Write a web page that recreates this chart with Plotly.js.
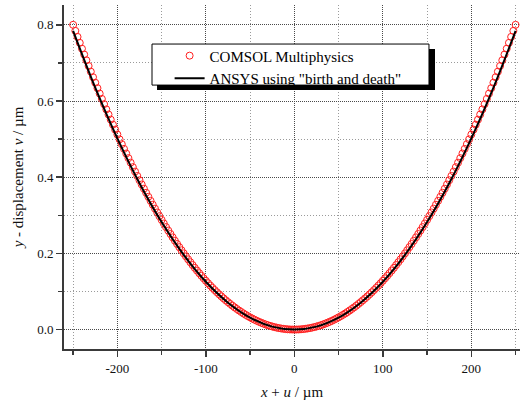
<!DOCTYPE html>
<html>
<head>
<meta charset="utf-8">
<script src="https://cdn.plot.ly/plotly-3.0.1.min.js"></script>
<style>html,body{margin:0;padding:0;background:#fff;}#chart{width:520px;height:400px;}</style>
</head>
<body>
<div id="chart"></div>
<script>
// COMSOL Multiphysics points (x + u in µm, y-displacement v in µm)
var comsolX = [-250,-247.5,-245,-242.5,-240,-237.5,-235,-232.5,-230,-227.5,-225,-222.5,-220,-217.5,-215,-212.5,-210,-207.5,-205,-202.5,
-200,-197.5,-195,-192.5,-190,-187.5,-185,-182.5,-180,-177.5,-175,-172.5,-170,-167.5,-165,-162.5,-160,-157.5,-155,-152.5,
-150,-147.5,-145,-142.5,-140,-137.5,-135,-132.5,-130,-127.5,-125,-122.5,-120,-117.5,-115,-112.5,-110,-107.5,-105,-102.5,
-100,-97.5,-95,-92.5,-90,-87.5,-85,-82.5,-80,-77.5,-75,-72.5,-70,-67.5,-65,-62.5,-60,-57.5,-55,-52.5,
-50,-47.5,-45,-42.5,-40,-37.5,-35,-32.5,-30,-27.5,-25,-22.5,-20,-17.5,-15,-12.5,-10,-7.5,-5,-2.5,
0,
2.5,5,7.5,10,12.5,15,17.5,20,22.5,25,27.5,30,32.5,35,37.5,40,42.5,45,47.5,50,
52.5,55,57.5,60,62.5,65,67.5,70,72.5,75,77.5,80,82.5,85,87.5,90,92.5,95,97.5,100,
102.5,105,107.5,110,112.5,115,117.5,120,122.5,125,127.5,130,132.5,135,137.5,140,142.5,145,147.5,150,
152.5,155,157.5,160,162.5,165,167.5,170,172.5,175,177.5,180,182.5,185,187.5,190,192.5,195,197.5,200,
202.5,205,207.5,210,212.5,215,217.5,220,222.5,225,227.5,230,232.5,235,237.5,240,242.5,245,247.5,250];
var comsolY = [0.8,0.7841,0.7683,0.7527,0.7373,0.722,0.7069,0.6919,0.6771,0.6625,
0.648,0.6337,0.6195,0.6055,0.5917,0.578,0.5645,0.5511,0.5379,0.5249,
0.512,0.4993,0.4867,0.4743,0.4621,0.45,0.4381,0.4263,0.4147,0.4033,
0.392,0.3809,0.3699,0.3591,0.3485,0.338,0.3277,0.3175,0.3075,0.2977,
0.288,0.2785,0.2691,0.2599,0.2509,0.242,0.2333,0.2247,0.2163,0.2081,
0.2,0.1921,0.1843,0.1767,0.1693,0.162,0.1549,0.1479,0.1411,0.1345,
0.128,0.1217,0.1155,0.1095,0.1037,0.098,0.0925,0.0871,0.0819,0.0769,
0.072,0.0673,0.0627,0.0583,0.0541,0.05,0.0461,0.0423,0.0387,0.0353,
0.032,0.0289,0.0259,0.0231,0.0205,0.018,0.0157,0.0135,0.0115,0.0097,
0.008,0.0065,0.0051,0.0039,0.0029,0.002,0.0013,0.0007,0.0003,0.0001,
0,
0.0001,0.0003,0.0007,0.0013,0.002,0.0029,0.0039,0.0051,0.0065,0.008,
0.0097,0.0115,0.0135,0.0157,0.018,0.0205,0.0231,0.0259,0.0289,0.032,
0.0353,0.0387,0.0423,0.0461,0.05,0.0541,0.0583,0.0627,0.0673,0.072,
0.0769,0.0819,0.0871,0.0925,0.098,0.1037,0.1095,0.1155,0.1217,0.128,
0.1345,0.1411,0.1479,0.1549,0.162,0.1693,0.1767,0.1843,0.1921,0.2,
0.2081,0.2163,0.2247,0.2333,0.242,0.2509,0.2599,0.2691,0.2785,0.288,
0.2977,0.3075,0.3175,0.3277,0.338,0.3485,0.3591,0.3699,0.3809,0.392,
0.4033,0.4147,0.4263,0.4381,0.45,0.4621,0.4743,0.4867,0.4993,0.512,
0.5249,0.5379,0.5511,0.5645,0.578,0.5917,0.6055,0.6195,0.6337,0.648,
0.6625,0.6771,0.6919,0.7069,0.722,0.7373,0.7527,0.7683,0.7841,0.8];

// ANSYS using "birth and death"
var ansysX = [-250,-225,-200,-175,-150,-125,-100,-75,-50,-25,0,25,50,75,100,125,150,175,200,225,250];
var ansysY = [0.784,0.635,0.5018,0.3842,0.2822,0.196,0.1254,0.0706,0.0314,0.0078,0,0.0078,0.0314,0.0706,0.1254,0.196,0.2822,0.3842,0.5018,0.635,0.784];

var seriesNames = ['COMSOL Multiphysics', 'ANSYS using "birth and death"'];

var xTickVals = [-200,-100,0,100,200];
var xTickText = ['-200','-100','0','100','200'];
var xMinorVals = [-250,-150,-50,50,150,250];
var yTickVals = [0,0.2,0.4,0.6,0.8];
var yTickText = ['0.0','0.2','0.4','0.6','0.8'];
var yMinorVals = [0.1,0.3,0.5,0.7];

var serif = '"Liberation Serif", "Times New Roman", serif';

var traces = [
  {x: comsolX, y: comsolY, name: seriesNames[0], type: 'scatter', mode: 'markers',
   marker: {symbol: 'circle-open', size: 7, color: '#ff2020', line: {width: 1, color: '#ff2020'}}},
  {x: ansysX, y: ansysY, name: seriesNames[1], type: 'scatter', mode: 'lines',
   line: {color: '#000', width: 2, shape: 'spline'}}
];

var axisCommon = {
  showline: true, linecolor: '#3a3a3a', linewidth: 2,
  ticks: 'outside', tickcolor: '#3a3a3a', tickwidth: 1.5, ticklen: 6,
  showgrid: true, gridcolor: '#4a4a4a', gridwidth: 1, griddash: '1px,1px',
  zeroline: false, mirror: false,
  tickfont: {family: serif, size: 13, color: '#111'}
};

var layout = {
  width: 520, height: 400,
  font: {family: serif, size: 13, color: '#111'},
  paper_bgcolor: '#fff', plot_bgcolor: '#fff',
  margin: {l: 64, r: 0, t: 5, b: 51, pad: 0},
  showlegend: true,
  legend: {x: 0.2316, y: 0.9, xanchor: 'left', yanchor: 'top',
           bgcolor: 'rgba(0,0,0,0)', borderwidth: 0,
           font: {family: serif, size: 15, color: '#000'}, tracegroupgap: 0},
  xaxis: Object.assign({}, axisCommon, {
    range: [-260.3, 255], tickmode: 'array', tickvals: xTickVals, ticktext: xTickText,
    minor: {tickmode: 'array', tickvals: xMinorVals, ticks: 'outside', ticklen: 4, tickcolor: '#3a3a3a',
            showgrid: true, gridcolor: '#9a9a9a', griddash: '1px,2px', gridwidth: 1},
    title: {text: '<i>x</i> + <i>u</i> / µm', font: {family: serif, size: 15, color: '#111'}, standoff: 12}
  }),
  yaxis: Object.assign({}, axisCommon, {
    range: [-0.051, 0.852], tickmode: 'array', tickvals: yTickVals, ticktext: yTickText,
    minor: {tickmode: 'array', tickvals: yMinorVals, ticks: 'outside', ticklen: 4, tickcolor: '#3a3a3a',
            showgrid: true, gridcolor: '#9a9a9a', griddash: '1px,2px', gridwidth: 1},
    title: {text: '<i>y</i> - displacement <i>v</i> / µm', font: {family: serif, size: 15, color: '#111'}, standoff: 10}
  }),
  shapes: [
    {type: 'rect', xref: 'paper', yref: 'paper', x0: 0.204, x1: 0.8136, y0: 0.7527, y1: 0.872,
     fillcolor: '#000', line: {width: 0}, layer: 'above'},
    {type: 'rect', xref: 'paper', yref: 'paper', x0: 0.193, x1: 0.8004, y0: 0.7672, y1: 0.8865,
     fillcolor: '#fff', line: {width: 1, color: '#000'}, layer: 'above'}
  ]
};

Plotly.newPlot('chart', traces, layout, {displayModeBar: false, staticPlot: true});
</script>
</body>
</html>
